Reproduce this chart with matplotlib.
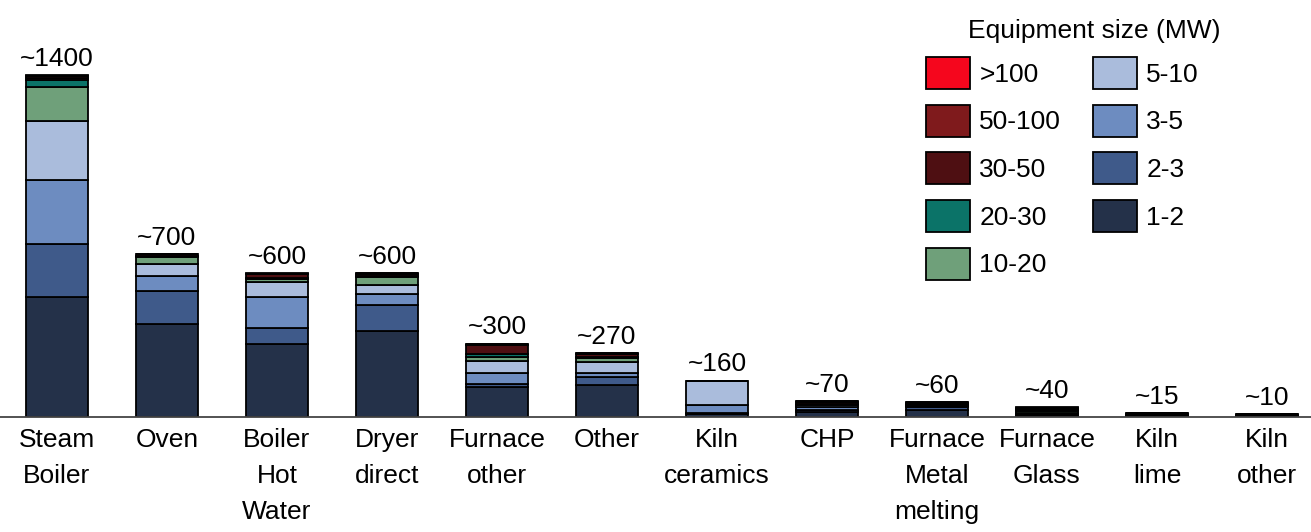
import numpy as np
import matplotlib
matplotlib.use('Agg')
import matplotlib.pyplot as plt
from matplotlib.patches import Patch

plt.rcParams['font.family'] = ['Liberation Sans', 'DejaVu Sans']

categories = ['Steam\nBoiler', 'Oven', 'Boiler\nHot\nWater', 'Dryer\ndirect',
              'Furnace\nother', 'Other', 'Kiln\nceramics', 'CHP',
              'Furnace\nMetal\nmelting', 'Furnace\nGlass', 'Kiln\nlime', 'Kiln\nother']
total_labels = ['~1400', '~700', '~600', '~600', '~300', '~270', '~160', '~70',
                '~60', '~40', '~15', '~10']

# size classes, bottom of the stack first
size_classes = ['1-2', '2-3', '3-5', '5-10', '10-20', '20-30', '30-50', '50-100', '>100']
mw_1_2    = [489, 382, 299, 350, 123, 131, 14, 20, 30, 5, 6, 5]
mw_2_3    = [217, 132, 63, 109, 10, 34, 2, 10, 10, 4, 3, 3]
mw_3_5    = [264, 61, 129, 45, 46, 14, 33, 10, 6, 4, 2, 2]
mw_5_10   = [240, 52, 61, 37, 52, 45, 100, 8, 4, 5, 2, 2]
mw_10_20  = [140, 27, 12, 31, 16, 16, 0, 4, 3, 5, 1, 0]
mw_20_30  = [26, 5, 5, 4, 12, 4, 0, 2, 1, 4, 1, 0]
mw_30_50  = [11, 8, 14, 8, 34, 12, 0, 6, 5, 6, 0, 0]
mw_50_100 = [7, 0, 3, 4, 5, 5, 0, 4, 2, 5, 0, 0]
mw_100    = [4, 0, 3, 0, 2, 0, 0, 2, 0, 3, 0, 0]

series = [mw_1_2, mw_2_3, mw_3_5, mw_5_10, mw_10_20, mw_20_30, mw_30_50, mw_50_100, mw_100]
colors = ['#243149', '#3f5a8a', '#6d8cc0', '#aabcdc', '#6fa07a',
          '#0b7368', '#4e0f12', '#7f1a1c', '#f5061d']

FS = 19

fig = plt.figure(figsize=(13.11, 5.32), dpi=100)
ax = fig.add_axes([0, 115 / 532, 1, 417 / 532])

x = np.arange(len(categories))
bottom = np.zeros(len(categories))
for vals, col in zip(series, colors):
    ax.bar(x, vals, bottom=bottom, width=0.56, color=col,
           edgecolor='black', linewidth=1.3, zorder=3)
    bottom += np.array(vals)

for xi, tot, lab in zip(x, bottom, total_labels):
    ax.annotate(lab, (xi, tot), xytext=(0, 3), textcoords='offset points',
                ha='center', va='bottom', fontsize=FS)

ax.set_xlim(-0.518, 11.4)
ax.set_ylim(0, 1705)
ax.set_yticks([])
for s in ['top', 'left', 'right']:
    ax.spines[s].set_visible(False)
ax.spines['bottom'].set_color('#444444')
ax.spines['bottom'].set_linewidth(1.3)
ax.spines['bottom'].set_zorder(4)

ax.set_xticks(x)
ax.set_xticklabels(categories, fontsize=FS, linespacing=1.62)
ax.tick_params(axis='x', length=0, pad=8)

# legend, title drawn separately so it can sit where the original has it
fig.text(1094 / 1311, 1 - 31 / 532, 'Equipment size (MW)', ha='center', va='center',
         fontsize=FS)
handles = [Patch(facecolor=c, edgecolor='black', linewidth=1.3, label=l)
           for c, l in zip(colors[::-1], size_classes[::-1])]
leg = fig.legend(handles=handles, ncol=2, loc='upper left',
                 bbox_to_anchor=(926 / 1311, 1 - 57 / 532),
                 frameon=False, fontsize=FS, borderpad=0, borderaxespad=0,
                 handlelength=1.67, handleheight=1.48, labelspacing=0.6,
                 handletextpad=0.35, columnspacing=1.2)

fig.savefig('out.png', dpi=100)
